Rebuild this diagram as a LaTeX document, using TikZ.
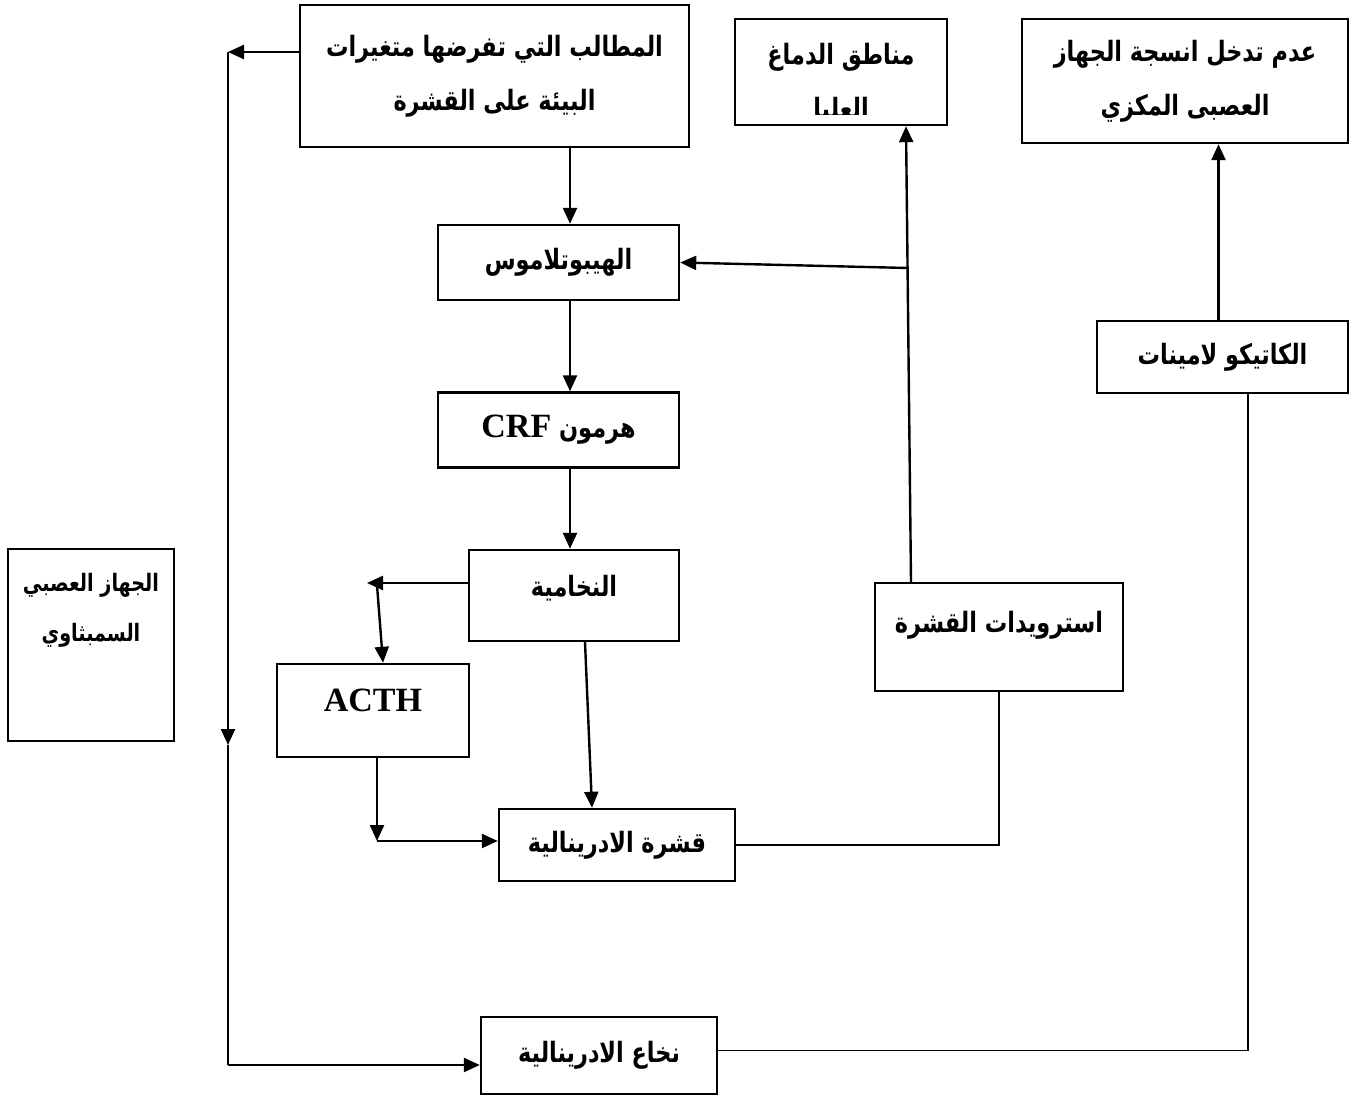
\documentclass[tikz,border=0pt]{standalone}
\usepackage{fontspec}
\setmainfont{Liberation Serif}
\newfontfamily\arabicfont[Script=Arabic,FakeStretch=0.8]{DejaVu Sans}
\TeXXeTstate=1
\usetikzlibrary{arrows.meta,positioning,calc}
\newcommand{\rtl}[1]{\beginR #1\endR}
\newcommand{\lat}[1]{{\rmfamily\fontsize{17}{27}\selectfont #1}}

\begin{document}
\begin{tikzpicture}[x=0.5pt,y=-0.5pt,->,>={Triangle[length=8pt,width=7pt]},line width=1.2pt,
   box/.style={draw, inner sep=0pt, align=center, font=\arabicfont\bfseries\fontsize{14}{27}\selectfont},
   txt/.style={inner sep=0pt, align=center, font=\arabicfont\bfseries\fontsize{14}{25}\selectfont},
   thin line/.style={-, line width=0.9pt}]
   \useasboundingbox (0,0) rectangle (1354,1096);
   % boxes
   \node[box, minimum width=194.5pt, minimum height=71pt] (dem) at (494.5,76) {\rtl{المطالب التي تفرضها متغيرات}\\\rtl{البيئة على القشرة}};
   \node[box, minimum width=106pt, minimum height=53pt] (brain) at (841,72) {};
   \node[box, minimum width=163pt, minimum height=62pt] (cns) at (1185,81) {\rtl{عدم تدخل انسجة الجهاز}\\\rtl{العصبى المكزي}};
   \node[box, minimum width=120.5pt, minimum height=37.5pt] (hyp) at (558.5,262.5) {\rtl{الهيبوتلاموس}};
   \node[box, minimum width=120.5pt, minimum height=37.5pt] (crf) at (558.5,430) {\rtl{هرمون \lat{CRF}}};
   \node[box, minimum width=105pt, minimum height=45.5pt] (pit) at (574,595.5) {};
   \node[box, minimum width=96pt, minimum height=46.5pt] (acth) at (373,710.5) {};
   \node[box, minimum width=118pt, minimum height=36pt] (cor) at (617,845) {\rtl{قشرة الادرينالية}};
   \node[box, minimum width=118pt, minimum height=38.5pt] (med) at (599,1055.5) {\rtl{نخاع الادرينالية}};
   \node[box, minimum width=83pt, minimum height=96pt] (sym) at (91,645) {};
   \node[box, minimum width=124pt, minimum height=54pt] (ster) at (999,637) {};
   \node[box, minimum width=125.5pt, minimum height=36pt] (cat) at (1222.5,357) {\rtl{الكاتيكو لامينات}};
   % texts placed off centre
   \node[txt] (pitT) at (574,588) {\rtl{النخامية}};
   \node[txt, font=\rmfamily\bfseries\fontsize{17}{20}\selectfont] (acthT) at (373,700) {ACTH};
   \node[txt, font=\arabicfont\bfseries\fontsize{12}{25}\selectfont] (symT) at (91,610) {\rtl{الجهاز العصبي}\\\rtl{السمبثاوي}};
   \node[txt] (sterT) at (999,625) {\rtl{استرويدات القشرة}};
   \begin{scope}
     \clip (736,20) rectangle (946,115);
     \node[txt, font=\arabicfont\bfseries\fontsize{14}{27}\selectfont] (brainT) at (841,83) {\rtl{مناطق الدماغ}\\\rtl{العليا}};
   \end{scope}
   % helper points
   \coordinate (col) at (570,0);
   \coordinate (lt) at (228,52);
   \coordinate (lm) at (228,745);
   \coordinate (lb) at (228,1065);
   \coordinate (pl) at (367,583);
   \coordinate (pk) at (377,585);
   \coordinate (ak) at (377,841);
   \coordinate (br) at (908,268);
   % main chain
   \draw (dem.west |- lt) -- (lt);
   \draw (lt) -- (lm);
   \draw[-] (lm) -- (lb);
   \draw (lb) -- (med.west |- lb);
   \draw (dem.south -| col) -- (hyp.north -| col);
   \draw (hyp.south -| col) -- (crf.north -| col);
   \draw (crf.south -| col) -- (pit.north -| col);
   \draw (pit.west |- pl) -- (pl);
   \draw (pk) -- ([xshift=5pt]acth.north);
   \draw ([xshift=5.5pt]pit.south) -- ([xshift=-12.5pt]cor.north);
   \draw ([xshift=2pt]acth.south) -- (ak);
   \draw (ak) -- (cor.west |- ak);
   \draw[thin line] (cor.east) -| (ster.south);
   \draw ([xshift=-44pt]ster.north) -- ([xshift=32.5pt]brain.south);
   \draw (br) -- (hyp.east);
   \draw[thin line] ([yshift=2.5pt]med.east) -| ([xshift=12.75pt]cat.south);
   \draw ([xshift=-2pt]cat.north) -- ([xshift=-2pt]cat.north |- cns.south);
\end{tikzpicture}
\end{document}
